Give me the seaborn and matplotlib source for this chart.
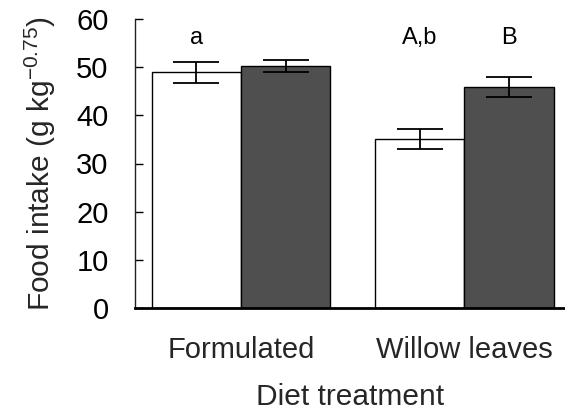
import matplotlib
matplotlib.use("Agg")
import matplotlib.pyplot as plt
import seaborn as sns
import pandas as pd

# ---- data ----
diets = ["Formulated", "Willow leaves"]
groups = ["Group 1", "Group 2"]
means_group1 = [48.9, 35.1]
means_group2 = [50.2, 45.9]
se_group1 = [2.1, 2.1]
se_group2 = [1.3, 2.0]
letters_group1 = ["a", "A,b"]
letters_group2 = ["", "B"]
yticks = [0, 10, 20, 30, 40, 50, 60]

df = pd.DataFrame({
    "diet": diets * 2,
    "group": [groups[0]] * 2 + [groups[1]] * 2,
    "intake": means_group1 + means_group2,
})

sns.set_theme(style="ticks")
plt.rcParams["font.family"] = ["Liberation Sans", "DejaVu Sans"]
plt.rcParams["mathtext.fontset"] = "custom"
plt.rcParams["mathtext.rm"] = "Liberation Sans"
plt.rcParams["mathtext.it"] = "Liberation Sans"

fig = plt.figure(figsize=(5.65, 4.16), dpi=100)
ax = fig.add_axes([135 / 565, 1 - 308 / 416, 1 - 135 / 565, (308 - 19) / 416])

sns.barplot(data=df, x="diet", y="intake", hue="group", order=diets,
            hue_order=groups, palette=["#ffffff", "#4f4f4f"],
            edgecolor="black", linewidth=1.0, errorbar=None, width=0.8,
            legend=False, ax=ax)

bar_containers = list(ax.containers)
errs = [se_group1, se_group2]
means = [means_group1, means_group2]
letters = [letters_group1, letters_group2]
for gi, cont in enumerate(bar_containers):
    for di, bar in enumerate(cont.patches):
        xc = bar.get_x() + bar.get_width() / 2
        ax.errorbar(xc, means[gi][di], yerr=errs[gi][di], color="black",
                    capsize=16.5, elinewidth=1.3, capthick=1.3, fmt="none")
        if letters[gi][di]:
            ax.text(xc, 56, letters[gi][di], ha="center", va="center",
                    fontsize=17, color="black")

ax.set_xlim(-0.474, 1.45)
ax.set_ylim(0, 60)
ax.set_yticks(yticks)
ax.set_yticklabels([str(t) for t in yticks])
ax.tick_params(axis="y", direction="in", length=6, width=1, labelsize=21,
               pad=19, colors="black")
ax.tick_params(axis="x", length=0, labelsize=21, pad=20)
ax.set_xlabel("Diet treatment", fontsize=21.5, labelpad=14)
ax.set_ylabel(r"Food intake (g kg$^{-0.75}$)", fontsize=21.5, labelpad=13)
sns.despine(ax=ax)
ax.spines["left"].set_linewidth(1.0)
ax.spines["left"].set_color("#222222")
ax.spines["bottom"].set_linewidth(2.0)
ax.spines["bottom"].set_color("black")

fig.savefig("out.png", dpi=100)
